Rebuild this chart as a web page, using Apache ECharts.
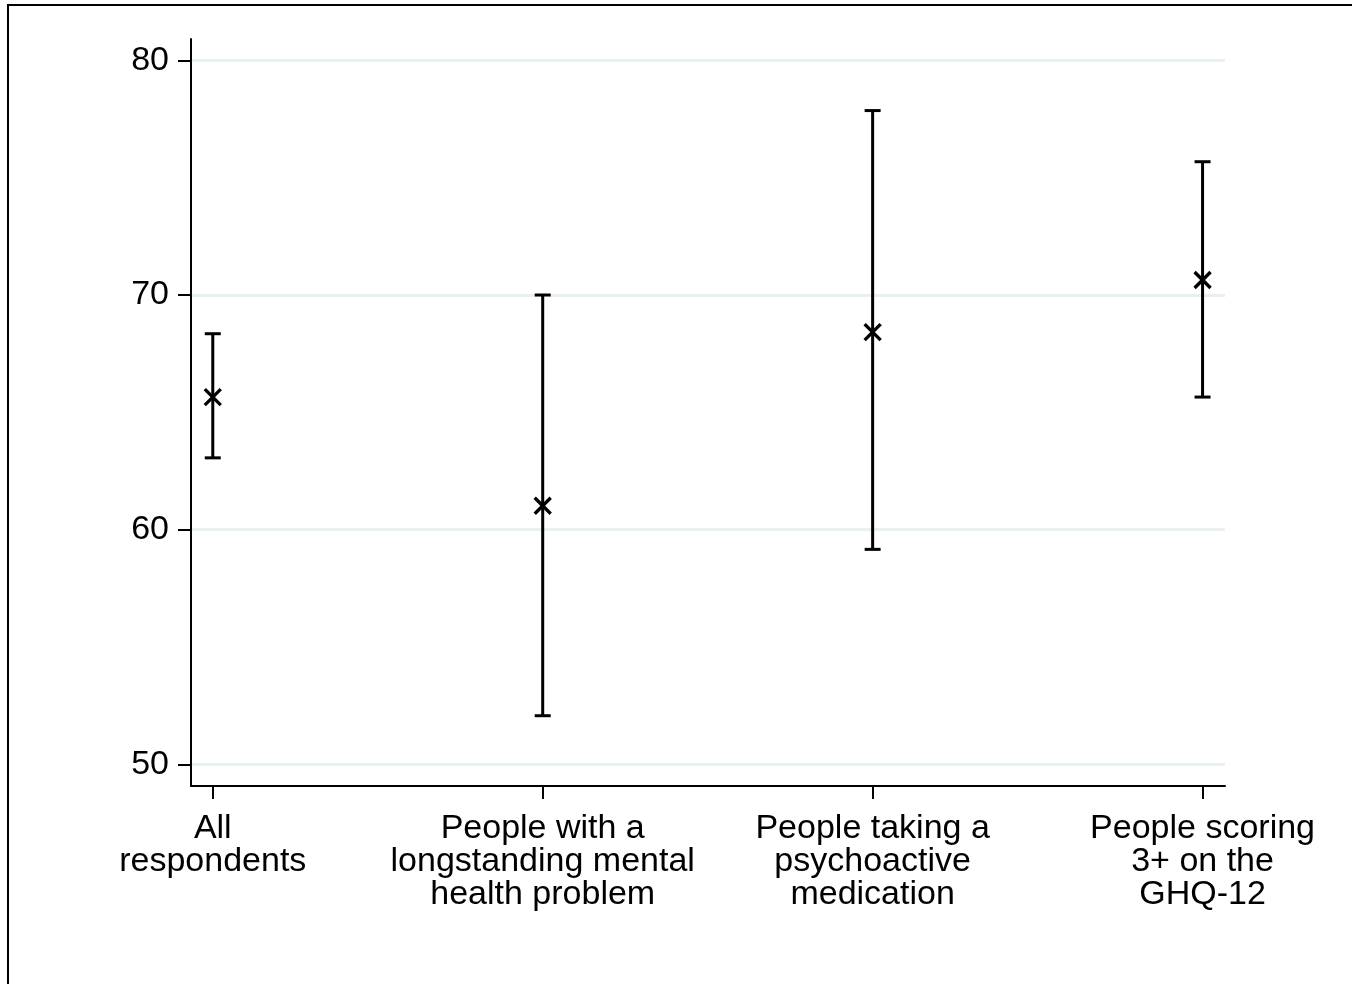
<!DOCTYPE html>
<html>
<head>
<meta charset="utf-8">
<script src="https://cdn.jsdelivr.net/npm/echarts@6/dist/echarts.min.js"></script>
<style>
html,body{margin:0;padding:0;background:#fff;}
#chart{width:1352px;height:984px;}
</style>
</head>
<body>
<div id="chart"></div>
<script>
var categories = ['All\nrespondents', 'People with a\nlongstanding mental\nhealth problem', 'People taking a\npsychoactive\nmedication', 'People scoring\n3+ on the\nGHQ-12'];
var estimates = [65.65, 61.02, 68.42, 70.64];
var lowerCI = [63.06, 52.07, 59.16, 65.65];
var upperCI = [68.35, 70.0, 77.86, 75.68];
var yTicks = [50, 60, 70, 80];
var xPositions = [1, 2, 3, 4];

var data = xPositions.map(function (x, i) { return [x, lowerCI[i], upperCI[i], estimates[i]]; });

var chart = echarts.init(document.getElementById('chart'), null, {renderer: 'canvas'});
var font = '"Liberation Sans", Arial, sans-serif';

chart.setOption({
  animation: false,
  backgroundColor: '#fff',
  grid: {left: 191, right: 127, top: 39, bottom: 198, containLabel: false},
  xAxis: {
    type: 'value',
    min: 0.934,
    max: 4.068,
    axisLine: {show: true, onZero: false, lineStyle: {color: '#000', width: 2}},
    axisTick: {show: true, length: 13, lineStyle: {color: '#000', width: 2}, customValues: xPositions},
    axisLabel: {
      customValues: xPositions,
      formatter: function (v) { return categories[Math.round(v) - 1] || ''; },
      color: '#000', fontSize: 34, lineHeight: 33, fontFamily: font, margin: 26,
      align: 'center', verticalAlign: 'top'
    },
    splitLine: {show: false}
  },
  yAxis: {
    type: 'value',
    min: 49.075,
    max: 80.91,
    axisLine: {show: true, onZero: false, lineStyle: {color: '#000', width: 2}},
    axisTick: {show: true, length: 13, lineStyle: {color: '#000', width: 2}, customValues: yTicks},
    axisLabel: {
      customValues: yTicks,
      color: '#000', fontSize: 34, fontFamily: font, margin: 22
    },
    splitLine: {show: true, lineStyle: {color: '#e9f0f2', width: 3}}
  },
  graphic: [{
    type: 'rect',
    shape: {x: 8, y: 5, width: 1500, height: 1200},
    style: {fill: 'none', stroke: '#000', lineWidth: 2},
    silent: true
  }],
  series: [{
    type: 'custom',
    data: data,
    encode: {x: 0, y: [1, 2, 3]},
    renderItem: function (params, api) {
      var x = api.value(0);
      var pLo = api.coord([x, api.value(1)]);
      var pHi = api.coord([x, api.value(2)]);
      var pE = api.coord([x, api.value(3)]);
      var cw = 8, m = 8;
      var st = {stroke: '#000', lineWidth: 3};
      var sx = {stroke: '#000', lineWidth: 3.3};
      return {
        type: 'group',
        children: [
          {type: 'line', shape: {x1: pLo[0], y1: pLo[1], x2: pHi[0], y2: pHi[1]}, style: st},
          {type: 'line', shape: {x1: pLo[0] - cw, y1: pLo[1], x2: pLo[0] + cw, y2: pLo[1]}, style: st},
          {type: 'line', shape: {x1: pHi[0] - cw, y1: pHi[1], x2: pHi[0] + cw, y2: pHi[1]}, style: st},
          {type: 'line', shape: {x1: pE[0] - m, y1: pE[1] - m, x2: pE[0] + m, y2: pE[1] + m}, style: sx},
          {type: 'line', shape: {x1: pE[0] - m, y1: pE[1] + m, x2: pE[0] + m, y2: pE[1] - m}, style: sx}
        ]
      };
    }
  }]
});
</script>
</body>
</html>
